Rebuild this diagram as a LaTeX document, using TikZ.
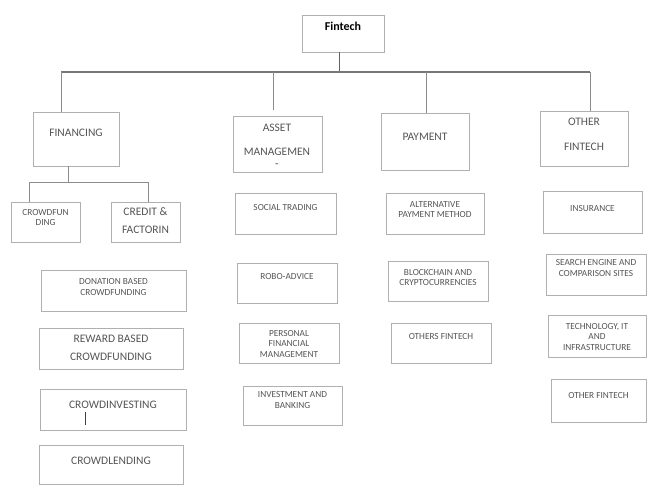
\documentclass[tikz,border=0pt]{standalone}
\usepackage{fontspec}
\setmainfont{Carlito}
\usetikzlibrary{fit}
\definecolor{boxline}{HTML}{b0b0b0}
\definecolor{linkline}{HTML}{8c8c8c}
\definecolor{txtgray}{HTML}{555555}

\begin{document}
\begin{tikzpicture}[x=1pt, y=-1pt,
    box/.style={draw=boxline, line width=0.7pt, inner sep=0pt},
    big/.style={text=txtgray, align=center, inner sep=0pt, font=\fontsize{11.5}{17.5}\selectfont},
    small/.style={text=txtgray, align=center, inner sep=0pt, font=\fontsize{9.3}{10.8}\selectfont},
    link/.style={draw=linkline, line width=0.9pt},
    busline/.style={draw=linkline!85!black, line width=1.4pt}]
    \fill[white] (0,0) rectangle (647,485);
    \useasboundingbox (0,0) rectangle (647,485);

    % root
    \node[box, fit={(302,15) (384,52)}] (fintech) {};
    \node[font=\fontsize{12}{14}\selectfont\bfseries, inner sep=0pt] (fintech-t) at (343,26) {Fintech};

    % first level
    \node[box, fit={(33,112) (119,166)}] (financing) {};
    \node[big] (financing-t) at (76,133) {FINANCING};
    \node[box, fit={(233,116) (322,172)}] (asset) {};
    \node[big] (asset-t) at (277,146) {ASSET\\[6.5pt] MANAGEMEN\\[-5pt] -};
    \node[box, fit={(381,113) (469,170)}] (payment) {};
    \node[big] (payment-t) at (425,137) {PAYMENT};
    \node[box, fit={(540,111) (628,166)}] (other) {};
    \node[big] (other-t) at (584,134.5) {OTHER\\[7.5pt] FINTECH};

    % bus from the root
    \coordinate (root-stem) at (339,72);
    \coordinate (bus-fin) at (61,72);
    \coordinate (bus-ast) at (273,72);
    \coordinate (bus-pay) at (426,72);
    \coordinate (bus-oth) at (590,72);
    \draw[link, draw=linkline!70!black] (root-stem |- fintech.south) -- (root-stem);
    \draw[busline] (bus-fin) -- (bus-oth);
    \draw[link] (bus-fin) -- (bus-fin |- financing.north);
    \draw[link] (bus-ast) -- (273,110);
    \draw[link] (bus-pay) -- (bus-pay |- payment.north);
    \draw[link] (bus-oth) -- (bus-oth |- other.north);

    % financing branch
    \node[box, fit={(11,202) (80,242)}] (crowdfun) {};
    \node[small] (crowdfun-t) at (45.5,217.5) {CROWDFUN\\DING};
    \node[box, fit={(111,202) (180,242)}] (credit) {};
    \node[big] (credit-t) at (145.5,220.5) {CREDIT \&\\FACTORIN};
    \coordinate (sub-fin) at (68,182);
    \coordinate (sub-cf) at (29,182);
    \coordinate (sub-cr) at (148,182);
    \draw[link] (sub-fin |- financing.south) -- (sub-fin);
    \draw[link] (sub-cf) -- (sub-cr);
    \draw[link] (sub-cf) -- (sub-cf |- crowdfun.north);
    \draw[link] (sub-cr) -- (sub-cr |- credit.north);

    \node[box, fit={(41,270) (186,311)}] (donation) {};
    \node[small] (donation-t) at (113.5,287) {DONATION BASED\\CROWDFUNDING};
    \node[box, fit={(39,328) (183,369)}] (reward) {};
    \node[big] (reward-t) at (111,348) {REWARD BASED\\CROWDFUNDING};
    \node[box, fit={(40,389) (186,430)}] (crowdinv) {};
    \node[big] (crowdinv-t) at (113,405) {CROWDINVESTING};
    \draw[black!75, line width=0.8pt] (85,412) -- (85,425);
    \node[box, fit={(39,445) (183,484)}] (crowdlend) {};
    \node[big] (crowdlend-t) at (111,461) {CROWDLENDING};

    % asset management branch
    \node[box, fit={(235,193) (336,234)}] (social) {};
    \node[small] (social-t) at (285.5,208) {SOCIAL TRADING};
    \node[box, fit={(237,263) (337,303)}] (robo) {};
    \node[small] (robo-t) at (287,277) {ROBO-ADVICE};
    \node[box, fit={(239,323) (339,363)}] (personal) {};
    \node[small] (personal-t) at (289,344) {PERSONAL\\FINANCIAL\\MANAGEMENT};
    \node[box, fit={(243,386) (342,425)}] (invest) {};
    \node[small] (invest-t) at (292.5,400) {INVESTMENT AND\\BANKING};

    % payment branch
    \node[box, fit={(386,193) (484,234)}] (altpay) {};
    \node[small] (altpay-t) at (435,209.5) {ALTERNATIVE\\PAYMENT METHOD};
    \node[box, fit={(388,261) (488,301)}] (chain) {};
    \node[small] (chain-t) at (438,277.5) {BLOCKCHAIN AND\\CRYPTOCURRENCIES};
    \node[box, fit={(391,323) (491,363)}] (othpay) {};
    \node[small] (othpay-t) at (441,337) {OTHERS FINTECH};

    % other fintech branch
    \node[box, fit={(543,191) (642,233)}] (insur) {};
    \node[small] (insur-t) at (592.5,209) {INSURANCE};
    \node[box, fit={(546,254) (646,295)}] (search) {};
    \node[small] (search-t) at (596,268) {SEARCH ENGINE AND\\COMPARISON SITES};
    \node[box, fit={(548,315) (646,357)}] (tech) {};
    \node[small] (tech-t) at (597,337) {TECHNOLOGY, IT\\AND\\INFRASTRUCTURE};
    \node[box, fit={(551,379) (646,422)}] (othoth) {};
    \node[small] (othoth-t) at (598.5,396) {OTHER FINTECH};
\end{tikzpicture}
\end{document}
